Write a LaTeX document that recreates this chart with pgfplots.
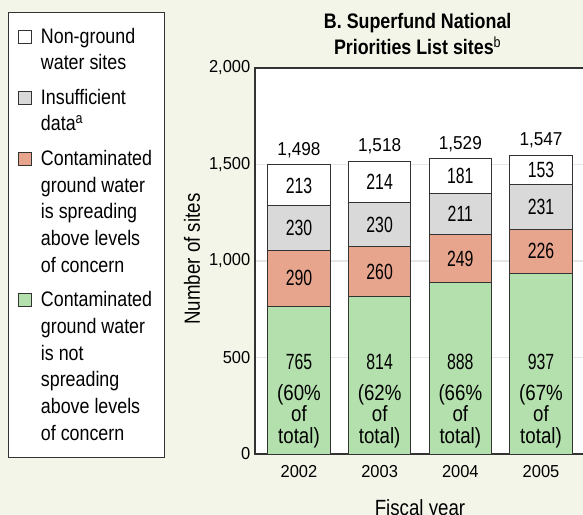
\documentclass[border=0pt]{standalone}
\usepackage{fontspec}
\setmainfont{Liberation Sans}[FakeStretch=0.85]
\newfontfamily\numfont{Liberation Sans}[FakeStretch=0.72]
\newfontfamily\tickfont{Liberation Sans}[FakeStretch=0.95]
\newfontfamily\totfont{Liberation Sans}[FakeStretch=0.92]
\usepackage{pgfplots}
\pgfplotsset{compat=1.18}
\usepackage{pgfplotstable}

\definecolor{bg}{HTML}{F2F5E8}
\definecolor{edge}{HTML}{333333}
\definecolor{notspread}{HTML}{B3E0AC}
\definecolor{spread}{HTML}{E8A58D}
\definecolor{insuff}{HTML}{D9D9D9}
\definecolor{gridc}{HTML}{E6E6E6}

% sites by fiscal year
\pgfplotstableread{
x year notspread pct spread insuff nongw total
0 2002 765 60 290 230 213 1498
1 2003 814 62 260 230 214 1518
2 2004 888 66 249 211 181 1529
3 2005 937 67 226 231 153 1547
}\sites

\pgfplotsset{
  frame/.style={
    at={(191.25pt,45.75pt)}, anchor=south west,
    scale only axis, width=249pt, height=289.5pt,
    xmin=-0.545, xmax=3.57, ymin=0, ymax=2000,
    enlarge x limits=false, enlarge y limits=false,
    /pgf/number format/1000 sep={,},
    /pgf/number format/assume math mode=true},
  sq/.style={legend image code/.code={%
    \draw[##1,line width=0.6pt] (0pt,#1-4.9pt) rectangle ++(9.75pt,9.75pt);}},
  seglabel/.style={draw=none, mark=none, nodes near coords, point meta=explicit,
    every node near coord/.append style={anchor=center,
      font=\numfont\fontsize{16.5}{19}\selectfont}},
}

\begin{document}
\begin{tikzpicture}
\fill[bg] (0,0) rectangle (437.25pt,386.25pt);
\useasboundingbox (0,0) rectangle (437.25pt,386.25pt);
\begin{axis}[frame,
  ybar stacked, bar width=0.77,
  xtick={0,1,2,3}, xticklabels={2002,2003,2004,2005},
  ytick={0,500,1000,1500,2000},
  ticklabel style={font=\tickfont\fontsize{13}{15}\selectfont},
  xticklabel style={yshift=-5pt},
  major tick length=0pt,
  ymajorgrids, grid style={gridc, line width=1.1pt},
  axis line style={edge, line width=1.1pt},
  axis background/.style={fill=white},
  title={B. Superfund National\\Priorities List sites\textsuperscript{\mdseries b}},
  title style={at={(axis description cs:0.49,1.067)}, anchor=center, align=center,
    font=\bfseries\fontsize{15.75}{19.5}\selectfont},
  ylabel={Number of sites},
  ylabel style={at={(axis description cs:-0.19,0.505)}, anchor=center,
    font=\fontsize{16.5}{19}\selectfont},
  xlabel={Fiscal year},
  xlabel style={at={(axis description cs:0.497,-0.145)}, anchor=center,
    font=\fontsize{16.5}{19}\selectfont},
  every axis plot/.append style={draw=edge, line width=0.75pt},
  reverse legend,
  legend style={at={(axis description cs:-0.744,1.145)}, anchor=north west,
    draw=edge, line width=0.75pt, fill=white,
    font=\fontsize{15.75}{20}\selectfont,
    inner xsep=7.5pt, inner ysep=9.5pt, row sep=9pt, column sep=4.5pt,
    cells={anchor=west, align=left, inner sep=0pt}},
]
\addplot[fill=notspread, sq=50pt] table[x=x, y=notspread] {\sites};
\addlegendentry{Contaminated\\ground water\\is not\\spreading\\above levels\\of concern}
\addplot[fill=spread, sq=40pt] table[x=x, y=spread] {\sites};
\addlegendentry{Contaminated\\ground water\\is spreading\\above levels\\of concern}
\addplot[fill=insuff, sq=10pt] table[x=x, y=insuff] {\sites};
\addlegendentry{Insufficient\\data\textsuperscript{a}}
\addplot[fill=white, sq=10pt] table[x=x, y=nongw] {\sites};
\addlegendentry{Non-ground\\water sites}
\end{axis}
% labels: same frame, no stacking
\begin{axis}[frame, hide axis]
\addplot[seglabel] table[x=x, y expr=\thisrow{notspread}+\thisrow{spread}/2, meta=spread] {\sites};
\addplot[seglabel] table[x=x, y expr=\thisrow{notspread}+\thisrow{spread}+\thisrow{insuff}/2, meta=insuff] {\sites};
\addplot[seglabel] table[x=x, y expr=\thisrow{total}-\thisrow{nongw}/2, meta=nongw] {\sites};
\addplot[seglabel] table[x=x, y expr=478, meta=notspread] {\sites};
\addplot[draw=none, mark=none, nodes near coords, point meta=explicit,
  every node near coord/.append style={anchor=south, yshift=2pt,
    font=\totfont\fontsize{14}{16}\selectfont}]
  table[x=x, y=total, meta=total] {\sites};
\addplot[draw=none, mark=none, point meta=explicit,
  nodes near coords={(\pgfmathprintnumber{\pgfplotspointmeta}\%\\of\\total)},
  every node near coord/.append style={anchor=center, align=center,
    font=\fontsize{16.5}{16}\selectfont}]
  table[x=x, y expr=197, meta=pct] {\sites};
\end{axis}
\end{tikzpicture}
\end{document}
